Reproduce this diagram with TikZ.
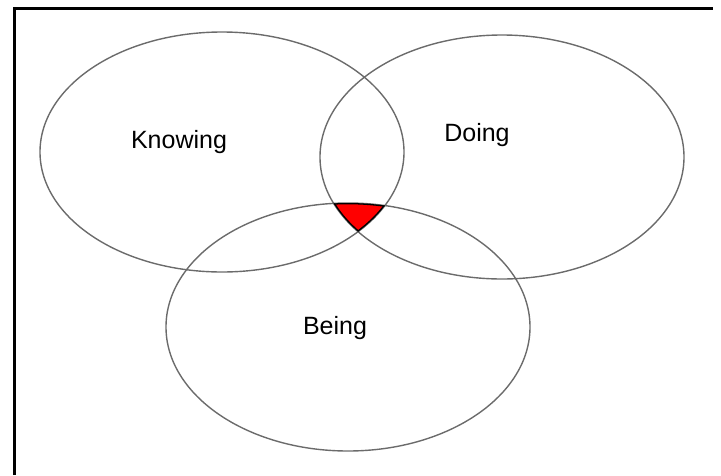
\documentclass[tikz,border=0pt]{standalone}
\usepackage{fontspec}
\setmainfont{Liberation Sans}
\tikzset{
  setline/.style={draw=black!58, line width=1.4pt},
  setlabel/.style={font=\fontsize{25}{30}\selectfont, inner sep=0pt}
}
\begin{document}
\begin{tikzpicture}[x=1pt,y=-1pt]
  \useasboundingbox (0,0) rectangle (721,475);
  \draw[line width=3pt] (14,475) -- (14,8) -- (713,8);

  % common part of the three sets
  \begin{scope}
    \clip (222,152) ellipse (182pt and 120pt);
    \clip (502,157) ellipse (182pt and 122pt);
    \fill[red] (348,327) ellipse (182pt and 124pt);
  \end{scope}

  \draw[setline] (222,152) ellipse (182pt and 120pt);
  \draw[setline] (502,157) ellipse (182pt and 122pt);
  \draw[setline] (348,327) ellipse (182pt and 124pt);

  \begin{scope}
    \clip (222,152) ellipse (182pt and 120pt);
    \clip (502,157) ellipse (182pt and 122pt);
    \clip (348,327) ellipse (182pt and 124pt);
    \draw[line width=2.6pt] (222,152) ellipse (182pt and 120pt);
    \draw[line width=2.6pt] (502,157) ellipse (182pt and 122pt);
    \draw[line width=2.6pt] (348,327) ellipse (182pt and 124pt);
  \end{scope}

  \node[setlabel] (knowing) at (179,142) {Knowing};
  \node[setlabel] (doing) at (477,135) {Doing};
  \node[setlabel] (being) at (335,328) {Being};
\end{tikzpicture}
\end{document}
